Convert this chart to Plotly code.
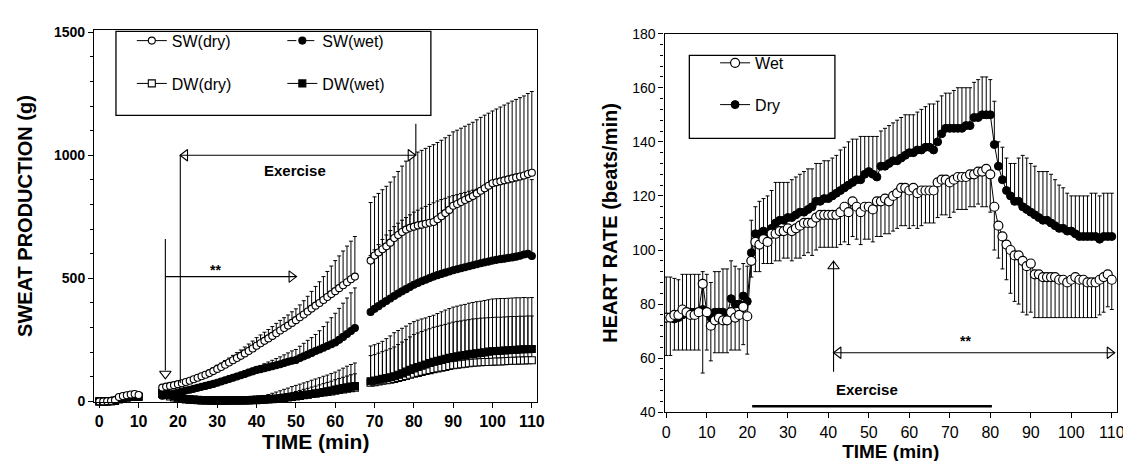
import plotly.graph_objects as go

W, H = 1131, 461
FONT = "Arial, 'Liberation Sans', sans-serif"

# ---------------- Left panel data (sweat production, g) ----------------
time_left = list(range(0, 111))
N5 = [None] * 5
N3 = [None] * 3

sw_dry = ([0, 0, 1, 2, 5, 18, 22, 25, 28, 30, 26] + N5 +
          [56, 60, 63, 66, 70, 74, 79, 84, 90, 96, 102, 108, 115, 123, 132, 140, 149, 158, 167, 176,
           185, 195, 205, 215, 226, 236, 246, 256, 266, 277, 288, 298, 308, 319, 330, 342, 353, 365, 377, 389,
           400, 412, 424, 436, 448, 460, 472, 484, 496, 507] + N3 +
          [572, 593, 605, 618, 630, 645, 664, 676, 688, 698, 705, 710, 715, 718, 722, 726, 729,
           740, 752, 765, 778, 795, 802, 810, 818, 826, 834, 845, 856, 866, 876, 886,
           890, 894, 898, 902, 906, 910, 914, 918, 924, 929])
sw_dry_sd = ([0, 0, 0, 1, 2, 4, 5, 5, 6, 6, 5] + N5 +
             [6, 6, 7, 7, 8, 8, 9, 9, 10, 10, 11, 12, 13, 14, 15, 16, 17, 18, 20, 22,
              24, 26, 28, 30, 33, 34, 35, 36, 38, 40, 41, 42, 43, 45, 46, 50, 56, 62, 70, 78,
              86, 95, 104, 114, 124, 131, 139, 147, 155, 163] + N3 +
             [236, 238, 240, 242, 244, 246, 248, 258, 268, 278, 288, 294, 298, 302, 306, 310, 314,
              312, 309, 306, 303, 300, 300, 300, 300, 300, 300, 299, 298, 297, 295, 294,
              298, 302, 306, 310, 314, 317, 320, 323, 327, 330])

sw_wet = ([0, 0, 1, 2, 4, 15, 20, 23, 25, 27, 24] + N5 +
          [23, 26, 29, 32, 36, 40, 44, 47, 51, 55, 59, 63, 67, 71, 76, 81, 86, 91, 96, 101,
           106, 111, 117, 122, 128, 131, 135, 139, 143, 147, 151, 156, 161, 165, 168, 176, 183, 190, 197, 205,
           211, 218, 225, 232, 239, 250, 262, 274, 286, 298] + N3 +
          [363, 376, 387, 398, 408, 418, 428, 438, 447, 456, 465, 474, 481, 488, 494, 501, 507,
           513, 518, 523, 528, 533, 537, 541, 545, 549, 553, 557, 561, 565, 568, 572,
           575, 578, 580, 583, 585, 588, 592, 597, 600, 591])
sw_wet_sd = ([0, 0, 0, 1, 2, 3, 4, 4, 5, 5, 4] + N5 +
             [4, 4, 5, 5, 5, 6, 6, 7, 7, 8, 8, 9, 9, 10, 10, 11, 11, 12, 12, 12,
              12, 13, 13, 13, 13, 15, 18, 21, 24, 27, 30, 33, 36, 40, 43, 48, 53, 58, 62, 67,
              76, 86, 97, 108, 119, 128, 137, 146, 155, 163] + N3 +
             [230, 240, 250, 260, 268, 276, 282, 286, 289, 291, 293, 295, 296, 297, 298, 299, 300,
              301, 302, 302, 303, 303, 303, 304, 304, 305, 305, 305, 306, 306, 306, 307,
              307, 307, 308, 308, 308, 309, 309, 309, 310, 310])

dw_dry = ([0, 0, 0, 1, 2, 10, 15, 18, 20, 22, 20] + N5 +
          [30, 25, 20, 16, 13, 10, 8, 7, 6, 5, 4, 4, 4, 3, 3, 3, 3, 4, 4, 4,
           4, 5, 5, 6, 7, 8, 9, 10, 11, 12, 14, 16, 18, 20, 22, 24, 26, 28, 30, 32,
           34, 36, 38, 40, 43, 46, 49, 52, 54, 56] + N3 +
          [76, 78, 81, 84, 86, 88, 91, 95, 99, 103, 108, 112, 116, 120, 124, 127, 131,
           134, 137, 140, 144, 147, 149, 151, 153, 155, 157, 158, 159, 160, 160, 161,
           162, 162, 163, 164, 165, 165, 166, 166, 167, 167])
dw_dry_sd = ([0, 0, 0, 0, 1, 2, 3, 3, 3, 4, 3] + N5 +
             [5, 5, 4, 4, 3, 3, 3, 3, 2, 2, 2, 2, 2, 2, 2, 2, 2, 2, 3, 3,
              4, 5, 6, 7, 8, 12, 15, 18, 22, 26, 29, 33, 36, 40, 43, 46, 49, 52, 56, 59,
              62, 66, 69, 73, 76, 81, 86, 91, 96, 100] + N3 +
             [110, 112, 115, 118, 122, 126, 130, 136, 142, 148, 154, 160, 162, 164, 166, 168, 170,
              171, 172, 173, 174, 175, 176, 176, 177, 177, 178, 178, 179, 179, 180, 180,
              180, 180, 180, 180, 180, 180, 180, 180, 180, 180])

dw_wet = ([0, 0, 0, 1, 2, 8, 12, 15, 18, 20, 18] + N5 +
          [35, 30, 25, 20, 16, 13, 10, 8, 7, 6, 5, 5, 4, 4, 4, 4, 4, 4, 4, 4,
           4, 4, 4, 5, 5, 6, 7, 8, 9, 10, 12, 14, 16, 18, 20, 22, 25, 27, 30, 32,
           35, 38, 41, 44, 48, 51, 54, 57, 60, 62] + N3 +
          [82, 85, 88, 92, 95, 98, 102, 108, 114, 121, 128, 134, 140, 145, 150, 156, 161,
           165, 169, 173, 177, 180, 183, 186, 188, 191, 193, 195, 197, 199, 202, 204,
           205, 206, 207, 208, 209, 210, 211, 212, 212, 213])
dw_wet_sd = ([0, 0, 0, 0, 1, 2, 2, 3, 3, 3, 3] + N5 +
             [4, 4, 3, 3, 3, 2, 2, 2, 2, 2, 2, 2, 2, 2, 2, 2, 2, 2, 2, 2,
              2, 2, 2, 3, 3, 4, 5, 6, 7, 8, 10, 12, 14, 17, 20, 22, 24, 26, 28, 30,
              32, 34, 36, 38, 40, 42, 44, 46, 48, 50] + N3 +
             [143, 145, 148, 152, 160, 168, 177, 180, 183, 185, 188, 190, 190, 190, 189, 189, 189,
              192, 195, 198, 200, 203, 204, 205, 206, 208, 209, 210, 210, 211, 211, 212,
              212, 212, 211, 211, 211, 211, 210, 210, 209, 209])

# ---------------- Right panel data (heart rate, beats/min) ----------------
time_right = list(range(0, 111))
hr_wet = [75, 75, 76, 76, 78, 77, 76, 76, 77, 87.5, 77,
          72, 74, 75, 74, 74, 77, 75, 76, 79, 75.5,
          96, 103, 102, 104, 103, 106, 106, 107, 107, 108,
          107, 108, 109, 110, 110, 110, 112, 113, 113, 113,
          113, 113, 114, 116, 114, 118, 116, 114, 116, 116,
          115, 118, 118, 119, 118, 120, 121, 123, 123, 122,
          123, 121, 122, 122, 122, 122, 125, 126, 126, 125,
          126, 127, 127, 127, 128, 128, 129, 129, 130, 128,
          116, 109, 105, 102, 100, 98, 98, 96, 94, 95,
          91, 91, 90, 90, 90, 90, 89, 89, 88, 89,
          90, 89, 89, 88, 88, 88, 89, 90, 91, 89]
hr_wet_sd = [14, 14, 13, 13, 15, 14, 13, 13, 14, 33, 14,
             13, 12, 13, 12, 12, 14, 12, 13, 14, 14,
             6, 11, 10, 9, 8, 11, 10, 11, 10, 11,
             11, 11, 12, 12, 11, 12, 12, 12, 12, 12,
             12, 12, 12, 13, 12, 13, 12, 12, 12, 12,
             12, 13, 13, 13, 12, 13, 13, 14, 14, 14,
             14, 13, 13, 12, 12, 12, 13, 13, 13, 13,
             12, 12, 12, 12, 12, 12, 12, 13, 14, 14,
             16, 12, 12, 13, 16, 17, 18, 19, 18, 18,
             16, 16, 15, 15, 15, 15, 14, 14, 13, 14,
             15, 14, 14, 13, 13, 13, 13, 13, 12, 11]
hr_dry = [75, 75, 74.5, 75, 76, 77, 77, 77, 77, 78, 77,
          75, 77, 77, 77, 76, 82, 80, 80, 83, 81,
          99, 106, 106, 107, 106, 108, 110, 111, 111, 112,
          112, 113, 114, 114, 115, 116, 118, 118, 119, 119,
          120, 121, 122, 123, 124, 125, 126, 126, 128, 129,
          128, 127, 131, 131, 132, 133, 133, 134, 135, 136,
          136, 137, 137, 138, 138, 137, 140, 143, 145, 145,
          145, 145, 145, 146, 146, 149, 149, 150, 150, 150,
          139, 131, 126, 122, 120, 118, 118, 116, 115, 114,
          113, 112, 111, 111, 110, 109, 108, 108, 107, 107,
          106, 105, 105, 105, 105, 105, 104, 105, 105, 105]
hr_dry_sd = [15, 15, 15, 14, 15, 14, 14, 14, 14, 14, 14,
             13, 15, 15, 16, 17, 14, 14, 13, 12, 13,
             12, 10, 12, 12, 14, 14, 15, 14, 14, 13,
             14, 14, 14, 15, 15, 14, 14, 14, 14, 14,
             14, 14, 15, 15, 16, 16, 15, 16, 14, 13,
             14, 15, 13, 14, 14, 14, 15, 15, 15, 14,
             14, 14, 15, 15, 16, 17, 15, 14, 13, 13,
             14, 15, 15, 14, 14, 13, 14, 14, 14, 13,
             16, 9, 12, 12, 12, 14, 16, 19, 19, 18,
             18, 17, 18, 18, 18, 17, 16, 15, 14, 13,
             14, 15, 15, 15, 16, 16, 16, 16, 16, 16]

left_ticks = [0, 10, 20, 30, 40, 50, 60, 70, 80, 90, 100, 110]


def px_x(p):
    return p / W


def px_y(p):
    return 1 - p / H


def zeros(a):
    return [None if v is None else 0 for v in a]


fig = go.Figure()


def err(plus, minus):
    return dict(type="data", symmetric=False, array=plus, arrayminus=minus,
                color="black", thickness=1, width=2)


# left panel traces (drawn bottom to top)
left_series = [
    ("DW(dry)", dw_dry, dw_dry_sd, "square", "white", "solid", "legend", 1),
    ("DW(wet)", dw_wet, dw_wet_sd, "square", "black", "solid", "legend3", 1),
    ("SW(wet)", sw_wet, sw_wet_sd, "circle", "black", "dash", "legend3", 0),
    ("SW(dry)", sw_dry, sw_dry_sd, "circle", "white", "solid", "legend", 0),
]
for name, vals, sd, sym, fill, dash, leg, rank in left_series:
    fig.add_trace(go.Scatter(
        x=time_left, y=vals, name=name, mode="lines+markers",
        xaxis="x", yaxis="y", legend=leg, legendgroup=name, legendrank=rank,
        line=dict(color="black", width=1, dash=dash),
        marker=dict(symbol=sym, size=7, color=fill, line=dict(color="black", width=1.1)),
        error_y=err(sd, zeros(sd)), connectgaps=False, cliponaxis=False))

# right panel traces
fig.add_trace(go.Scatter(
    x=time_right, y=hr_dry, name="Dry", mode="lines+markers", xaxis="x2", yaxis="y2",
    legend="legend2", legendgroup="Dry", legendrank=1,
    line=dict(color="black", width=1),
    marker=dict(symbol="circle", size=8, color="black", line=dict(color="black", width=1)),
    error_y=err(hr_dry_sd, zeros(hr_dry_sd))))
fig.add_trace(go.Scatter(
    x=time_right, y=hr_wet, name="Wet", mode="lines+markers", xaxis="x2", yaxis="y2",
    legend="legend2", legendgroup="Wet", legendrank=0,
    line=dict(color="black", width=1),
    marker=dict(symbol="circle", size=9, color="white", line=dict(color="black", width=1.2)),
    error_y=err(zeros(hr_wet_sd), hr_wet_sd)))

# arrowheads (annotation marks)
def head(x, y, sym, xa, ya):
    fig.add_trace(go.Scatter(x=[x], y=[y], mode="markers", xaxis=xa, yaxis=ya, showlegend=False,
                             hoverinfo="skip",
                             marker=dict(symbol=sym, size=10, color="white",
                                         line=dict(color="black", width=1.1))))

head(16.8, 112, "triangle-down", "x", "y")
head(21.8, 1000, "triangle-left", "x", "y")
head(79.2, 1000, "triangle-right", "x", "y")
head(48.9, 507, "triangle-right", "x", "y")
head(41.3, 94, "triangle-up", "x2", "y2")
head(42.5, 62, "triangle-left", "x2", "y2")
head(109.5, 62, "triangle-right", "x2", "y2")

shapes = []


def seg(x0, y0, x1, y1, xr, yr, w=1.1):
    shapes.append(dict(type="line", x0=x0, y0=y0, x1=x1, y1=y1, xref=xr, yref=yr,
                       line=dict(color="black", width=w), layer="above"))

seg(16.8, 660, 16.8, 125, "x", "y")
seg(20.6, 1000, 20.6, 75, "x", "y")
seg(20.6, 1000, 80.4, 1000, "x", "y")
seg(80.5, 1128, 80.5, 1000, "x", "y")
seg(16.8, 507, 50.1, 507, "x", "y")
seg(41.3, 55, 41.3, 96, "x2", "y2")
seg(41.3, 62, 110.7, 62, "x2", "y2")
seg(21.2, 42.2, 80.4, 42.2, "x2", "y2", w=2.6)

# legend boxes
shapes.append(dict(type="rect", xref="paper", yref="paper", x0=px_x(106), x1=px_x(424),
                   y0=px_y(103), y1=px_y(16), line=dict(color="black", width=1.3)))
shapes.append(dict(type="rect", xref="paper", yref="paper", x0=px_x(685), x1=px_x(832),
                   y0=px_y(126.7), y1=px_y(40.7), line=dict(color="black", width=1.3)))

annotations = [
    dict(x=49.8, y=938, xref="x", yref="y", text="<b>Exercise</b>", showarrow=False,
         font=dict(size=15, family=FONT, color="black")),
    dict(x=29.5, y=533, xref="x", yref="y", text="<b>**</b>", showarrow=False,
         font=dict(size=14, family=FONT, color="black")),
    dict(x=74, y=66.5, xref="x2", yref="y2", text="<b>**</b>", showarrow=False,
         font=dict(size=14, family=FONT, color="black")),
    dict(x=49.5, y=48.4, xref="x2", yref="y2", text="<b>Exercise</b>", showarrow=False,
         font=dict(size=15, family=FONT, color="black")),
]

axis_common = dict(showline=True, linecolor="black", linewidth=1.4, mirror=True,
                   ticks="outside", tickcolor="black", tickwidth=1.2, showgrid=False,
                   zeroline=False)


def legend_cfg(x, y, gap):
    return dict(x=x, y=y, bgcolor="rgba(0,0,0,0)", borderwidth=0, orientation="v",
                xanchor="left", yanchor="top", tracegroupgap=gap, itemwidth=30,
                font=dict(size=16, family=FONT, color="black"), traceorder="grouped")


fig.update_layout(
    width=W, height=H, margin=dict(l=0, r=0, t=0, b=0),
    paper_bgcolor="white", plot_bgcolor="white",
    font=dict(family=FONT, color="black"),
    xaxis=dict(domain=[px_x(84), px_x(531.5)], range=[-1.3, 111.4], anchor="y",
               tickvals=left_ticks, ticklen=5,
               tickfont=dict(size=16, family=FONT, weight="bold"),
               title=dict(text="<b>TIME (min)</b>", font=dict(size=21, family=FONT), standoff=2),
               **axis_common),
    yaxis=dict(domain=[px_y(399.5), px_y(15)], range=[-1, 1507], anchor="x",
               tickvals=[0, 500, 1000, 1500], ticklen=5,
               minor=dict(dtick=100, ticks="outside", ticklen=3, tickcolor="black"),
               tickfont=dict(size=14, family=FONT, weight="bold"),
               title=dict(text="<b>SWEAT PRODUCTION (g)</b>", font=dict(size=20, family=FONT), standoff=16),
               **axis_common),
    xaxis2=dict(domain=[px_x(660), px_x(1116.7)], range=[-0.42, 111.25], anchor="y2",
                tickvals=left_ticks, ticklen=5,
                tickfont=dict(size=16, family=FONT),
                title=dict(text="<b>TIME (min)</b>", font=dict(size=19, family=FONT), standoff=0),
                **axis_common),
    yaxis2=dict(domain=[px_y(410.5), px_y(18.3)], range=[40, 180], anchor="x2",
                tickvals=[40, 60, 80, 100, 120, 140, 160, 180], ticklen=5,
                minor=dict(dtick=4, ticks="outside", ticklen=3, tickcolor="black"),
                tickfont=dict(size=14, family=FONT),
                title=dict(text="<b>HEART RATE (beats/min)</b>", font=dict(size=20, family=FONT), standoff=9),
                **axis_common),
    legend=legend_cfg(px_x(122), px_y(8), 19),
    legend3=legend_cfg(px_x(274), px_y(8), 19),
    legend2=legend_cfg(px_x(711), px_y(31), 18),
    shapes=shapes, annotations=annotations, showlegend=True,
)

fig.write_html("out.html")
